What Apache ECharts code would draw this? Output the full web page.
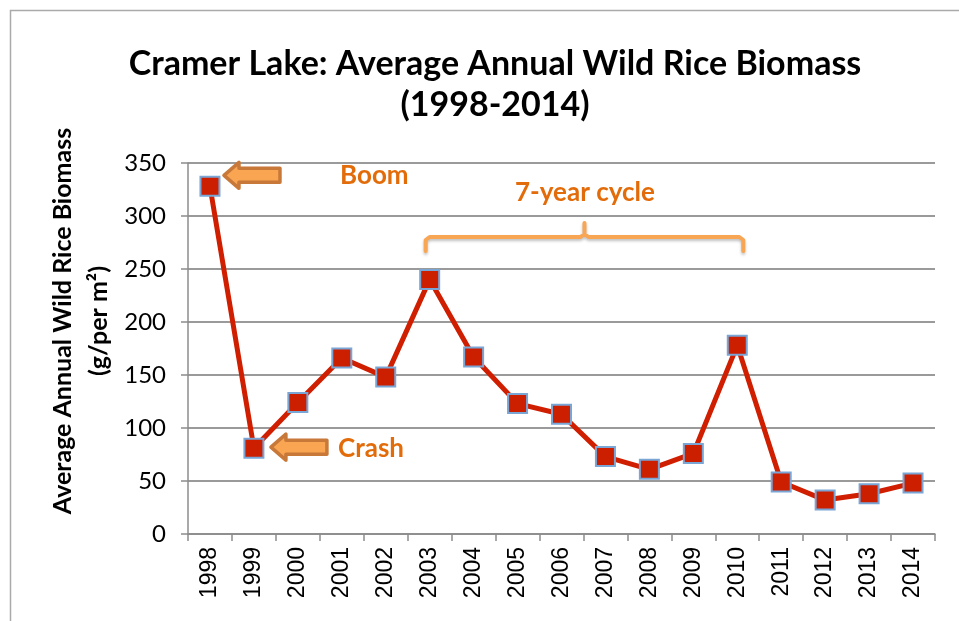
<!DOCTYPE html>
<html><head><meta charset="utf-8">
<script src="https://cdn.jsdelivr.net/npm/echarts@6/dist/echarts.min.js"></script>
<style>html,body{margin:0;padding:0;background:#fff}#c{width:959px;height:621px}</style>
</head><body><div id="c"></div>
<script>
const years = ['1998','1999','2000','2001','2002','2003','2004','2005','2006','2007','2008','2009','2010','2011','2012','2013','2014'];
const biomass = [328, 81, 124, 166, 148, 240, 167, 123, 113, 73, 61, 76, 178, 49, 32, 38, 48];
const yTicks = [0, 350, 50];
const titleText = 'Cramer Lake: Average Annual Wild Rice Biomass\n(1998-2014)';
const yName = 'Average Annual Wild Rice Biomass\n(g/per m²)';

const FONT = 'Lato, "Open Sans", sans-serif';
const chart = echarts.init(document.getElementById('c'));
chart.setOption({
  animation: false,
  backgroundColor: '#fff',
  title: {
    text: titleText, left: 490, top: 39, textAlign: 'center',
    textStyle: {fontFamily: FONT, fontWeight: 'bold', fontSize: 34, lineHeight: 41, color: '#000'}
  },
  grid: {left: 188, right: 24, top: 163, bottom: 87},
  xAxis: {
    type: 'category', data: years, boundaryGap: true,
    axisLine: {lineStyle: {color: '#8c8c8c', width: 1.5}},
    axisTick: {show: true, length: 7, interval: 0, lineStyle: {color: '#8c8c8c', width: 1.5}},
    axisLabel: {rotate: 90, interval: 0, fontSize: 23, color: '#000', fontFamily: '"Liberation Sans", Arial, sans-serif', margin: 13}
  },
  yAxis: {
    type: 'value', min: yTicks[0], max: yTicks[1], interval: yTicks[2],
    axisLine: {show: true, lineStyle: {color: '#8c8c8c', width: 1.5}},
    axisTick: {show: true, length: 7, inside: false, lineStyle: {color: '#8c8c8c', width: 1.5}},
    splitLine: {lineStyle: {color: '#9a9a9a', width: 2}},
    axisLabel: {fontSize: 24, color: '#000', fontFamily: FONT, margin: 22}
  },
  series: [{
    type: 'line', data: biomass,
    symbol: 'rect', symbolSize: 19,
    lineStyle: {color: '#d01e00', width: 5},
    itemStyle: {color: '#cc1f00', borderColor: '#7aa6d6', borderWidth: 2}
  }]
});

function px(i, v) { return chart.convertToPixel({gridIndex: 0}, [i, v]); }
const annColor = '#e36c0a';
const p0 = px(0, biomass[0]);
const p1 = px(1, biomass[1]);
const pa = px(5, 0), pb = px(12, 0);

function arrow(x, y) {
  // left-pointing block arrow whose tip is at (x,y)
  return {
    type: 'polygon', z: 100,
    shape: {points: [[x, y], [x + 15, y - 13], [x + 15, y - 7], [x + 56, y - 7], [x + 56, y + 7], [x + 15, y + 7], [x + 15, y + 13]]},
    style: {fill: '#f9a552', stroke: '#c8793a', lineWidth: 3.5, lineJoin: 'round'}
  };
}
const braceL = pa[0] - 4, braceR = pb[0] + 6, braceM = (braceL + braceR) / 2;
const by = 237;
chart.setOption({
  graphic: [
    {type: 'rect', shape: {x: 10.5, y: 10.5, width: 960, height: 620}, style: {fill: null, stroke: '#aaaaaa', lineWidth: 1.5}, silent: true},
    {type: 'text', x: 81, y: 321, rotation: Math.PI / 2,
      style: {text: yName, fill: '#000', font: 'bold 25px ' + FONT, lineHeight: 36, align: 'center', verticalAlign: 'middle'}},
    arrow(p0[0] + 14, p0[1] - 11),
    arrow(p1[0] + 17, p1[1] - 1),
    {type: 'text', left: 340, top: 163, style: {text: 'Boom', fill: annColor, font: 'bold 26px ' + FONT}},
    {type: 'text', left: 338, top: 436, style: {text: 'Crash', fill: annColor, font: 'bold 26px ' + FONT}},
    {type: 'text', left: 515, top: 180, style: {text: '7-year cycle', fill: annColor, font: 'bold 26px ' + FONT}},
    {type: 'polyline', z: 100,
      shape: {points: [[braceL, by + 14], [braceL, by + 3], [braceL + 4, by], [braceM - 4, by], [braceM, by - 3], [braceM, by - 14], [braceM, by - 3], [braceM + 4, by], [braceR - 4, by], [braceR, by + 3], [braceR, by + 14]]},
      style: {stroke: '#f8a554', lineWidth: 4, fill: null, lineJoin: 'round', lineCap: 'round', shadowBlur: 3, shadowColor: 'rgba(0,0,0,0.25)', shadowOffsetY: 2}}
  ]
});
</script></body></html>
